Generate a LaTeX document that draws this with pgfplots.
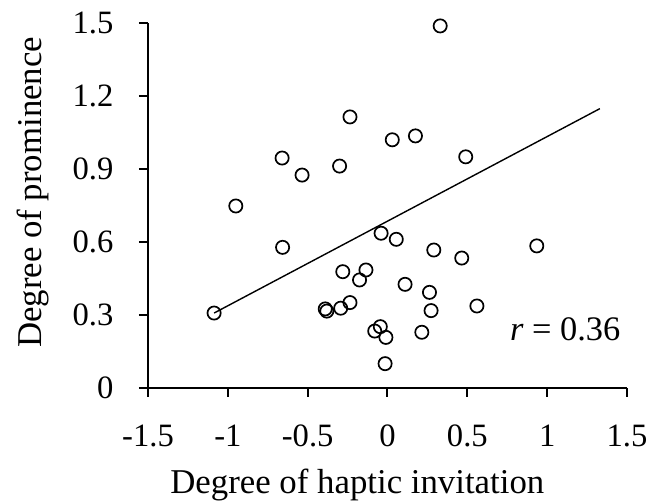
\documentclass[border=0pt]{standalone}
\usepackage{pgfplots}
\pgfplotsset{compat=1.18}
\usepackage{fontspec}
\setmainfont{Liberation Serif}
\begin{document}
\fontsize{17.4}{20}\selectfont
\begin{tikzpicture}
\path[use as bounding box] (-74pt,-57pt) rectangle (251pt,194pt);
\begin{axis}[
  scale only axis, width=239.5pt, height=182.5pt,
  xmin=-1.5, xmax=1.5, ymin=0, ymax=1.5,
  axis x line*=bottom, axis y line*=left,
  axis line style={line width=1pt},
  xtick={-1.5,-1,-0.5,0,0.5,1,1.5},
  xticklabels={-1.5,-1,-0.5,0,0.5,1,1.5},
  ytick={0,0.3,0.6,0.9,1.2,1.5},
  yticklabels={0,0.3,0.6,0.9,1.2,1.5},
  tick align=outside, major tick length=4.5pt,
  tick style={line width=1pt, black},
  tick label style={font=\fontsize{16.3}{19}\selectfont},
  xticklabel style={yshift=-8pt},
  yticklabel style={xshift=-6.8pt},
  xlabel={Degree of haptic invitation},
  ylabel={Degree of prominence},
  label style={font=\fontsize{17.4}{20}\selectfont},
  xlabel style={at={(axis description cs:0.437,-0.266)}, anchor=center},
  ylabel style={at={(axis description cs:-0.24,0.536)}, anchor=center, rotate=0},
  clip=false,
]
\addplot[only marks, mark=o, mark size=3.3pt, mark options={line width=0.85pt, black}] coordinates {
(0.33,1.488) (-0.235,1.114) (0.175,1.036) (0.03,1.02) (-0.66,0.945) (0.49,0.95)
(-0.30,0.912) (-0.535,0.875) (-0.95,0.748) (-0.04,0.636) (0.055,0.611) (0.29,0.567)
(-0.657,0.578) (0.935,0.584) (0.465,0.534) (0.263,0.393) (0.273,0.318) (0.56,0.337)
(0.215,0.229) (-0.28,0.478) (-0.135,0.485) (-0.175,0.444) (0.11,0.426)
(-0.39,0.325) (-0.38,0.316) (-0.293,0.328) (-0.235,0.351)
(-0.045,0.252) (-0.08,0.234) (-0.01,0.208) (-0.015,0.10) (-1.086,0.308)
};
\addplot[black, line width=0.7pt] coordinates {(-1.086,0.308) (1.33,1.148)};
\node[font=\fontsize{17.2}{20}\selectfont] at (axis cs:1.113,0.242) {\textit{r} = 0.36};
\end{axis}
\end{tikzpicture}
\end{document}
